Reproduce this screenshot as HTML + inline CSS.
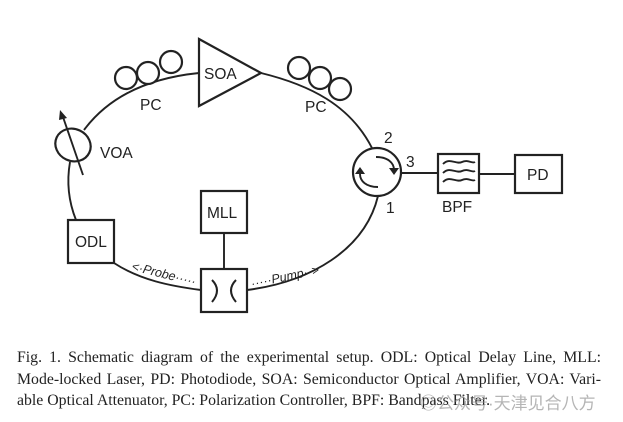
<!DOCTYPE html>
<html><head><meta charset="utf-8"><style>
html,body{margin:0;padding:0;background:#fff;width:623px;height:422px;overflow:hidden;}
svg{position:absolute;left:0;top:0;}
.cap{position:absolute;left:17px;width:584px;font-family:"Liberation Serif",serif;font-size:15.8px;color:#222;line-height:21px;white-space:nowrap;}
.j{text-align:justify;text-align-last:justify;}
</style></head><body>
<svg width="623" height="340" viewBox="0 0 623 340" font-family="Liberation Sans, sans-serif" fill="none" stroke="#222" stroke-width="1.9">
<path d="M84 130 C110 95 150 78 199 73"/>
<path d="M261 73 C310 85 350 105 372 148"/>
<path d="M70 162 C66 185 70 205 76 220"/>
<path d="M114 263 C140 280 170 286 201 290"/>
<path d="M247 290 C310 282 365 250 378 196"/>
<circle cx="126" cy="78" r="11" fill="#fff" stroke-width="2.2"/>
<circle cx="148" cy="73" r="11" fill="#fff" stroke-width="2.2"/>
<circle cx="171" cy="62" r="11" fill="#fff" stroke-width="2.2"/>
<circle cx="299" cy="68" r="11" fill="#fff" stroke-width="2.2"/>
<circle cx="320" cy="78" r="11" fill="#fff" stroke-width="2.2"/>
<circle cx="340" cy="89" r="11" fill="#fff" stroke-width="2.2"/>
<polygon points="199,39 261,73 199,106" fill="#fff" stroke-width="2.2"/>
<ellipse cx="73" cy="145" rx="18" ry="16" transform="rotate(25 73 145)" fill="#fff" stroke-width="2.2"/>
<line x1="83" y1="175" x2="63" y2="117"/>
<polygon points="60,110 67,118 59,120" fill="#222" stroke="none"/>
<rect x="68" y="220" width="46" height="43" fill="#fff" stroke-width="2.2"/>
<rect x="201" y="191" width="46" height="42" fill="#fff" stroke-width="2.2"/>
<line x1="224" y1="233" x2="224" y2="269"/>
<rect x="201" y="269" width="46" height="43" fill="#fff" stroke-width="2.2"/>
<path d="M212 280 Q222 290 212 302" stroke-width="2"/>
<path d="M236 280 Q226 290 236 302" stroke-width="2"/>
<circle cx="377" cy="172" r="24" fill="#fff" stroke-width="2.2"/>
<path d="M376 157 C388 157 394 163 394 170"/>
<polygon points="389,168 399,168 394,175" fill="#222" stroke="none"/>
<path d="M378 187 C366 187 360 181 360 174"/>
<polygon points="355,174 365,174 360,167" fill="#222" stroke="none"/>
<line x1="401" y1="173" x2="438" y2="173"/>
<line x1="479" y1="174" x2="515" y2="174"/>
<rect x="438" y="154" width="41" height="39" fill="#fff" stroke-width="2.2"/>
<path d="M443 164 C450 157 456 165 462 162 C468 159 472 164 475 162"/>
<path d="M443 173 C450 166 456 174 462 171 C468 168 472 173 475 171"/>
<path d="M443 182 C450 175 456 183 462 180 C468 177 472 182 475 180"/>
<rect x="515" y="155" width="47" height="38" fill="#fff" stroke-width="2.2"/>
<g fill="#222" stroke="none" font-size="15.5">
<text x="204" y="79">SOA</text>
<text x="140" y="110">PC</text>
<text x="305" y="112">PC</text>
<text x="100" y="158">VOA</text>
<text x="75" y="247">ODL</text>
<text x="207" y="218">MLL</text>
<text x="527" y="180">PD</text>
<text x="442" y="212">BPF</text>
<text x="384" y="143">2</text>
<text x="406" y="167">3</text>
<text x="386" y="213">1</text>
<text x="131" y="270" font-size="12.5" font-style="italic" transform="rotate(14 131 270)">&lt;·Probe·····</text>
<text x="252" y="288" font-size="12.5" font-style="italic" transform="rotate(-12 252 288)">·····Pump··&gt;</text>
</g>
</svg>
<div class="cap j" style="top:347px">Fig. 1. Schematic diagram of the experimental setup. ODL: Optical Delay Line, MLL:</div>
<div class="cap j" style="top:369px">Mode-locked Laser, PD: Photodiode, SOA: Semiconductor Optical Amplifier, VOA: Vari-</div>
<div class="cap" style="top:390px">able Optical Attenuator, PC: Polarization Controller, BPF: Bandpass Filter.</div>
<div style="position:absolute;left:420px;top:389px;font-family:'Liberation Sans','Noto Sans CJK SC',sans-serif;font-size:17px;color:rgba(150,150,150,0.7);white-space:nowrap;">◎公众号·天津见合八方</div>
</body></html>
